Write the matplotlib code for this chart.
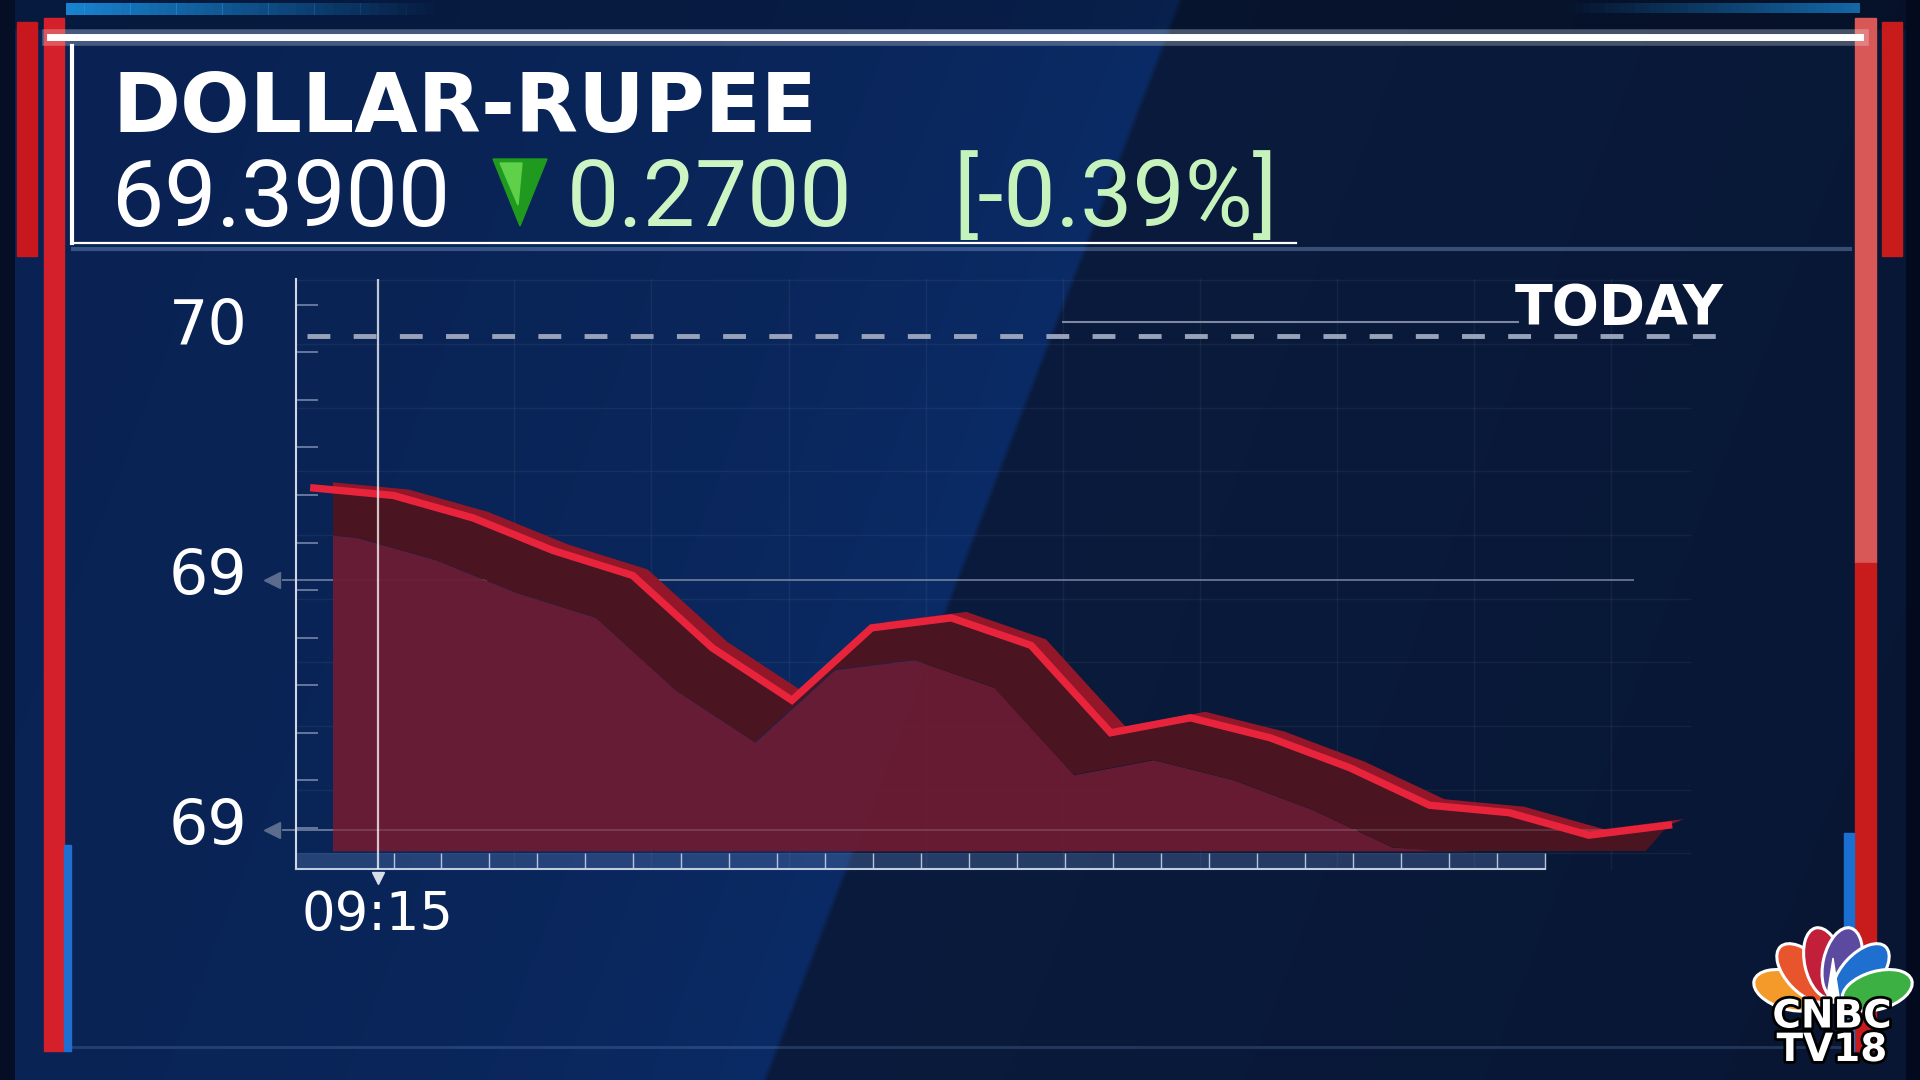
import numpy as np
import matplotlib.pyplot as plt
from matplotlib.patches import Polygon, Rectangle, Ellipse
from matplotlib.ticker import FixedLocator
import matplotlib.transforms as mtransforms
import matplotlib.patheffects as pe

#############################################################################################################
# data read off the broadcast graphic
pair_name = 'DOLLAR-RUPEE'
last_price = '69.3900'
abs_change = '0.2700'
pct_change = '[-0.39%]'

points = list(range(18))
usd_inr = [69.537, 69.534, 69.525, 69.512, 69.502, 69.473, 69.452, 69.481, 69.485,
           69.474, 69.439, 69.445, 69.437, 69.425, 69.410, 69.407, 69.398, 69.402]
prev_close = 69.598
y_ticks = [69.6, 69.5, 69.4]
y_tick_labels = ['70', '69', '69']
ref_levels = [69.5, 69.4]
time_pos = [0.8]
time_labels = ['09:15']

#############################################################################################################
# background
W, H = 1920, 1080
fig = plt.figure(figsize=(19.2, 10.8), dpi=100)
bg = fig.add_axes([0, 0, 1, 1])

yy, xx = np.mgrid[0:H, 0:W].astype(float)
xb = 1180 - 0.385 * yy
d = np.clip((xb - xx) / 400.0, 0, None)
left_col = np.array([9, 34, 82]) / 255
glow = np.array([2, 9, 20]) / 255
right_col = np.array([10, 27, 61]) / 255
mix = np.clip((xb - xx) / 6.0 + 0.5, 0, 1)[..., None]
left_img = left_col + glow * np.exp(-d)[..., None]
right_img = right_col - (np.array([2, 5, 10]) / 255) * np.clip((xx - xb) / 1200, 0, 1)[..., None]
img = mix * left_img + (1 - mix) * right_img
img[yy < 30] = img[yy < 30] * 0.75
img[xx < 15] = np.array([5, 14, 36]) / 255
img[xx > 1905] = np.array([4, 10, 30]) / 255
img = np.clip(img, 0, 1)
bg.imshow(img, extent=(0, W, H, 0), aspect='auto', zorder=0)
bg.set_xlim(0, W)
bg.set_ylim(H, 0)
bg.axis('off')

# faint grid behind the chart
for k in range(1, 10):
    gx = 377.2 + 137.1 * k
    bg.plot([gx, gx], [279, 869], color='white', alpha=0.05, lw=1, zorder=1)
for k in range(-3, 7):
    gy = (385 + 52 * k) * 1.2245
    bg.plot([296, 1690], [gy, gy], color='white', alpha=0.05, lw=1, zorder=1)

# red / blue frame bars
bg.add_patch(Rectangle((17, 22), 20, 234, color='#c8181e', zorder=3))
bg.add_patch(Rectangle((44, 18), 20, 1033, color='#d4202a', zorder=3))
bg.add_patch(Rectangle((64, 845), 7, 206, color='#1e6fd0', zorder=3))
bg.add_patch(Rectangle((1855, 18), 21, 545, color='#d85858', zorder=3))
bg.add_patch(Rectangle((1855, 563), 21, 488, color='#c81c1c', zorder=3))
bg.add_patch(Rectangle((1844, 833), 10, 218, color='#1a70d0', zorder=3))
bg.add_patch(Rectangle((1882, 22), 20, 234, color='#c81c1c', zorder=3))

# top blue accents
for i in range(40):
    bg.add_patch(Rectangle((66 + i * 9.2, 3), 9.3, 12, color='#1a8fe0',
                           alpha=0.9 * (1 - i / 40), lw=0, zorder=2))
    bg.add_patch(Rectangle((1560 + i * 7.5, 3), 7.6, 10, color='#1a8fe0',
                           alpha=0.7 * (i / 40), lw=0, zorder=2))

# header frame lines
bg.plot([50, 1860], [37, 37], color='white', lw=12, alpha=0.25, zorder=4)
bg.plot([50, 1860], [37, 37], color='white', lw=5, zorder=4)
bg.plot([73, 1296], [243, 243], color='white', lw=1.6, zorder=4)
bg.plot([73, 1850], [249, 249], color='#8fb4e8', lw=3, alpha=0.35, zorder=4)
bg.plot([72, 72], [46, 243], color='white', lw=3, zorder=4)
bg.plot([70, 1840], [1047, 1047], color='#8fb4e8', lw=2, alpha=0.2, zorder=2)

# header texts
bg.text(112, 132, pair_name, fontsize=59, fontweight='bold', color='white',
        family='DejaVu Sans', va='baseline', ha='left', zorder=5)
num_font = ['Roboto', 'DejaVu Sans']
bg.text(112, 226, last_price, fontsize=67, color='white', family=num_font,
        va='baseline', ha='left', zorder=5)
bg.add_patch(Polygon([(493, 159), (547, 159), (520, 226)], closed=True,
                     color='#1f9a1f', zorder=5))
bg.add_patch(Polygon([(500, 163), (522, 163), (518, 205)], closed=True,
                     color='#5fd04a', zorder=5))
bg.text(567, 226, abs_change, fontsize=67, color='#cdf5c4', family=num_font,
        va='baseline', ha='left', zorder=5)
bg.text(953, 226, pct_change, fontsize=67, color='#c6f2bc', family=num_font,
        va='baseline', ha='left', zorder=5)

# TODAY tag with leader line
bg.plot([1063, 1518], [322, 322], color='#7c88a4', lw=1.5, zorder=4)
bg.text(1515, 324, 'TODAY', fontsize=40, fontweight='bold', color='white',
        family='DejaVu Sans', va='baseline', ha='left', zorder=5)

#############################################################################################################
# chart axes
ax = fig.add_axes([296.3 / W, 210.6 / H, (1690 - 296.3) / W, (800.8 - 210.6) / H])
ax.set_facecolor('none')
ax.set_xlim(-0.22, 17.27)
ax.set_ylim(69.3843, 69.6206)
px_x = 1393.7 / (17.27 + 0.22)
px_y = 590.2 / (69.6206 - 69.3843)

x = np.array(points, dtype=float)
y = np.array(usd_inr)
base = 69.3917
lo_dx, lo_dy = -37 / px_x, -42 / px_y
bk_dx, bk_dy = 15 / px_x, 6 / px_y

clip_ribbon = Rectangle((0.246, base), 17.0, 1.0, transform=ax.transData)
clip_front = Rectangle((0.246, 69.0), 16.73 - 0.246, 1.0, transform=ax.transData)

# reference lines (behind the ribbon)
ax.hlines(ref_levels, -0.4, 16.57, color='#8a96b0', lw=1.3, alpha=0.75,
          clip_on=False, zorder=1.5)
ax.plot([-0.52] * len(ref_levels), ref_levels, marker='<', ms=12, ls='none',
        color='#5c6c8e', clip_on=False, zorder=1.5)

# front face of the ribbon
front = ax.fill_between(x + lo_dx, np.maximum(y + lo_dy, base), base,
                        color='#6c1c33', alpha=0.95, lw=0, zorder=2)
front.set_clip_path(clip_front)

# back strip above the line
back = Polygon(np.vstack([np.column_stack([x, y]),
                          np.column_stack([x + bk_dx, y + bk_dy])[::-1]]),
               closed=True, color='#931729', lw=0, zorder=2.5)
ax.add_patch(back)
back.set_clip_path(clip_ribbon)

# dark top face between the line and its lower edge
top_face = Polygon(np.vstack([np.column_stack([x, y]),
                              np.column_stack([x + lo_dx, y + lo_dy])[::-1]]),
                   closed=True, color='#4a1420', lw=0, zorder=3)
ax.add_patch(top_face)
top_face.set_clip_path(clip_ribbon)

ax.hlines([69.4], 0.246, 16.57, color='#c0b0c0', lw=1.2, alpha=0.22, zorder=3.5)

# main price line
ax.plot(x, y, color='#e8243c', lw=5.3, solid_joinstyle='miter', zorder=5)

# previous close dashed line
ax.hlines([prev_close], -0.09, 17.65, color='#98a3ba', lw=3.5,
          linestyles=[(0, (4.7, 4.8))], clip_on=False, zorder=4)

# time marker
ax.axvline(time_pos[0], color='white', alpha=0.75, lw=1.6, zorder=6)
ax.plot(time_pos, [69.3843 - 0.0035], marker='v', ms=9, color='#d8dde8',
        clip_on=False, zorder=6)

# light band above the time axis
ax.axhspan(69.3843, 69.3907, xmin=0, xmax=0.896, color='#5b7cb5', alpha=0.35,
           lw=0, zorder=1)

# spines
for s in ['top', 'right']:
    ax.spines[s].set_visible(False)
ax.spines['left'].set_color('#d0d8e8')
ax.spines['left'].set_linewidth(1.5)
ax.spines['bottom'].set_color('#c0cce0')
ax.spines['bottom'].set_linewidth(1.5)
ax.spines['bottom'].set_bounds(-0.22, 15.45)

# ticks
ax.set_yticks(y_ticks)
ax.set_yticklabels(y_tick_labels, family='DejaVu Sans', color='white', fontsize=44.6)
ax.yaxis.set_minor_locator(FixedLocator(np.linspace(69.401, 69.6103, 12)))
ax.tick_params(axis='y', which='major', length=0, pad=35)
ax.tick_params(axis='y', which='minor', direction='in', length=15.8, width=1.1,
               color='#7f8db0')
shift = mtransforms.ScaledTranslation(0, 0.10, fig.dpi_scale_trans)
for lab in ax.get_yticklabels():
    lab.set_transform(lab.get_transform() + shift)

ax.set_xticks(time_pos)
ax.set_xticklabels(time_labels, family='DejaVu Sans', color='white', fontsize=38)
ax.xaxis.set_minor_locator(FixedLocator(np.linspace(1.0, 15.45, 25)))
ax.tick_params(axis='x', which='major', length=0, pad=14)
ax.tick_params(axis='x', which='minor', direction='in', length=11.5, width=1,
               color='#b8c4dc')

#############################################################################################################
# CNBC TV18 logo
bx, by = 1833, 1003
feathers = [(164, '#f39a2a'), (133, '#e8552c'), (103, '#c21f3a'),
            (77, '#5b4aa0'), (47, '#1f6fd0'), (16, '#3cb043')]
for ang, col in feathers:
    r = 46 if ang in (164, 16) else 41
    cx = bx + r * np.cos(np.radians(ang))
    cy = by - r * np.sin(np.radians(ang))
    bg.add_patch(Ellipse((cx, cy), 72, 38, angle=-ang, facecolor=col,
                         edgecolor='white', lw=2.2, zorder=6))
bg.add_patch(Polygon([(bx - 7, by), (bx + 7, by), (bx, by - 45)],
                     closed=True, color='white', zorder=7))
stroke = [pe.withStroke(linewidth=4, foreground='black')]
bg.text(1832, 1061, 'CNBC\nTV18', fontsize=28, fontweight='bold', color='white',
        family='DejaVu Sans', ha='center', va='baseline', multialignment='center',
        linespacing=0.85, zorder=8, path_effects=stroke)

fig.savefig('out.png', dpi=100)
